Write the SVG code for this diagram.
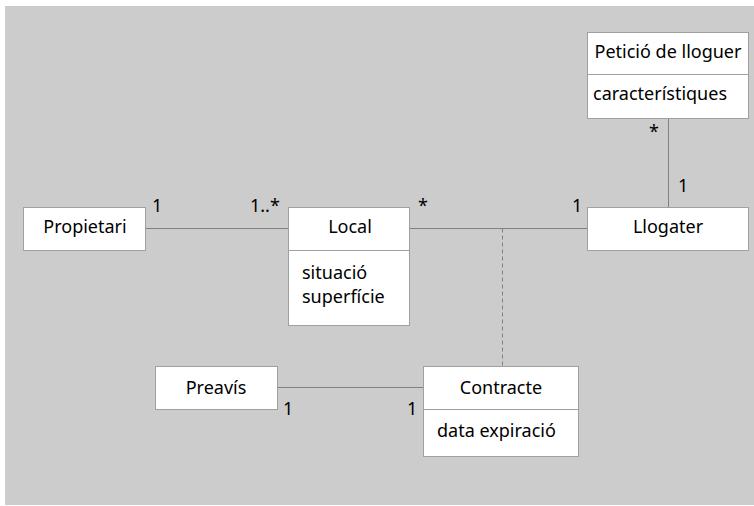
<svg xmlns="http://www.w3.org/2000/svg" width="754" height="506" viewBox="0 0 754 506">
<style>
.box{fill:#fff;stroke:#a0a0a0;stroke-width:1}
.div{stroke:#a0a0a0;stroke-width:1}
.t{font-family:"Noto Sans","Open Sans",sans-serif;font-size:18px;fill:#000}
.c{text-anchor:middle}
.ln{stroke:#808080;stroke-width:1;fill:none}
.dash{stroke:#808080;stroke-width:1;stroke-dasharray:4,3;fill:none}
</style>
<rect x="5" y="6" width="749" height="499" fill="#cccccc"/>
<g id="connectors">
<line class="ln" x1="145" y1="228.5" x2="288" y2="228.5"/>
<line class="ln" x1="410" y1="228.5" x2="587" y2="228.5"/>
<line class="ln" x1="668.5" y1="118" x2="668.5" y2="207"/>
<line class="dash" x1="502.5" y1="228.5" x2="502.5" y2="366"/>
<line class="ln" x1="277" y1="387.5" x2="423" y2="387.5"/>
<text class="t" x="152" y="212">1</text>
<text class="t" x="250" y="212">1..*</text>
<text class="t" x="418" y="212">*</text>
<text class="t" x="572" y="212">1</text>
<text class="t" x="649" y="138">*</text>
<text class="t" x="678" y="192">1</text>
<text class="t" x="283" y="415">1</text>
<text class="t" x="407" y="415">1</text>
</g>
<g id="peticio">
<rect class="box" x="587.5" y="32.5" width="161" height="86"/>
<line class="div" x1="587.5" y1="74.5" x2="748.5" y2="74.5"/>
<text class="t c" x="668" y="58">Petició de lloguer</text>
<text class="t" x="593" y="100">característiques</text>
</g>
<g id="llogater">
<rect class="box" x="587.5" y="207.5" width="161" height="43"/>
<text class="t c" x="668" y="233">Llogater</text>
</g>
<g id="propietari">
<rect class="box" x="23.5" y="207.5" width="122" height="43"/>
<text class="t c" x="85" y="233">Propietari</text>
</g>
<g id="local">
<rect class="box" x="288.5" y="207.5" width="121" height="118"/>
<line class="div" x1="288.5" y1="250.5" x2="409.5" y2="250.5"/>
<text class="t c" x="350" y="233">Local</text>
<text class="t" x="302" y="279">situació</text>
<text class="t" x="302" y="303">superfície</text>
</g>
<g id="preavis">
<rect class="box" x="155.5" y="366.5" width="122" height="43"/>
<text class="t c" x="216" y="394">Preavís</text>
</g>
<g id="contracte">
<rect class="box" x="423.5" y="366.5" width="155" height="90"/>
<line class="div" x1="423.5" y1="409.5" x2="578.5" y2="409.5"/>
<text class="t c" x="501" y="394">Contracte</text>
<text class="t" x="437" y="437">data expiració</text>
</g>
</svg>
